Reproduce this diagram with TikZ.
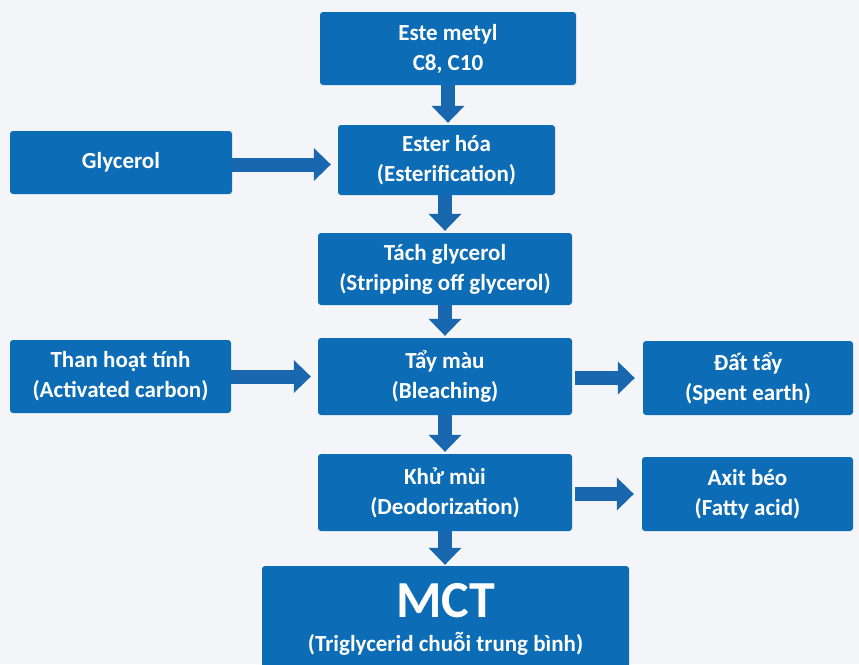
\documentclass[tikz,border=0pt]{standalone}
\usepackage{fontspec}
\setmainfont{Carlito}
\usetikzlibrary{arrows.meta}
\definecolor{boxblue}{HTML}{0D6CB6}
\definecolor{arrowblue}{HTML}{1867AF}
\definecolor{paper}{HTML}{F3F5F8}
\tikzset{
  stepbox/.style={fill=boxblue, draw=none, rounded corners=3pt, text=white,
    align=center, inner sep=0pt,
    font=\bfseries\fontsize{23}{30}\selectfont},
  fatarrow/.style={draw=arrowblue, line width=14pt, line cap=butt,
    -{Triangle[width=33pt,length=17pt,line width=0pt,fill=arrowblue]}},
}
\begin{document}
\begin{tikzpicture}[x=1pt,y=-1pt]
  \fill[paper] (0,0) rectangle (859,664);
  \useasboundingbox (0,0) rectangle (859,664);
  \clip (0,0) rectangle (859,664);

  % main column
  \node[stepbox, minimum width=256pt, minimum height=73pt] (este) at (448,48.5) {Este metyl\\C8, C10};
  \node[stepbox, minimum width=217pt, minimum height=70pt] (ester) at (446.5,160) {Ester hóa\\(Esterification)};
  \node[stepbox, minimum width=254pt, minimum height=72pt] (tach) at (445,269) {Tách glycerol\\(Stripping off glycerol)};
  \node[stepbox, minimum width=254pt, minimum height=77pt] (tay) at (445,376.5) {Tẩy màu\\(Bleaching)};
  \node[stepbox, minimum width=254pt, minimum height=77pt] (khu) at (445,492.5) {Khử mùi\\(Deodorization)};
  \node[stepbox, minimum width=367pt, minimum height=106pt,
        font=\bfseries\fontsize{23}{34}\selectfont] (mct) at (445.5,619)
        {{\fontsize{52}{52}\selectfont MCT}\\(Triglycerid chuỗi trung bình)};

  % inputs
  \node[stepbox, minimum width=222pt, minimum height=63pt] (gly) at (121,162.5) {Glycerol};
  \node[stepbox, minimum width=221pt, minimum height=73pt] (than) at (120.5,376.5) {Than hoạt tính\\(Activated carbon)};

  % by-products
  \node[stepbox, minimum width=210pt, minimum height=74pt] (dat) at (748,378) {Đất tẩy\\(Spent earth)};
  \node[stepbox, minimum width=211pt, minimum height=74pt] (axit) at (747.5,494) {Axit béo\\(Fatty acid)};

  % process flow
  \draw[fatarrow] (este.south) -- ([yshift=2pt]ester.north -| este.south);
  \draw[fatarrow] (ester.south -| tach.north) -- ([yshift=2pt]tach.north);
  \draw[fatarrow] (tach.south) -- ([yshift=2pt]tay.north);
  \draw[fatarrow] (tay.south) -- ([yshift=2pt]khu.north);
  \draw[fatarrow] (khu.south) -- ([yshift=1pt]mct.north -| khu.south);

  % side streams
  \coordinate (glyout) at ([yshift=-2pt]gly.east);
  \draw[fatarrow] (glyout) -- ([xshift=-7pt]ester.west |- glyout);
  \draw[fatarrow] (than.east) -- ([xshift=-7pt]tay.west |- than.east);
  \draw[fatarrow] ([xshift=3pt]tay.east |- dat.west) -- ([xshift=-8pt]dat.west);
  \draw[fatarrow] ([xshift=3pt]khu.east |- axit.west) -- ([xshift=-8pt]axit.west);
\end{tikzpicture}
\end{document}
